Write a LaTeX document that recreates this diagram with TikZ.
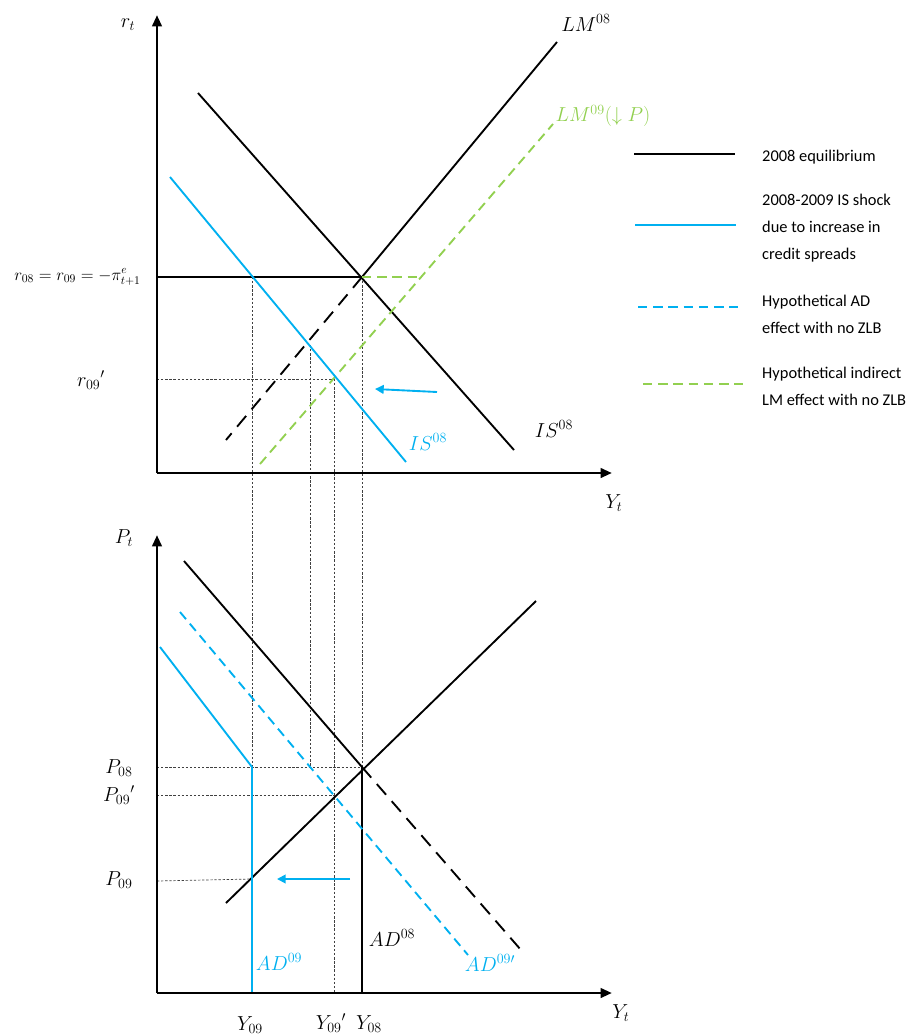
\documentclass[tikz,border=0pt]{standalone}
\usepackage{amsmath}
\usepackage[no-math]{fontspec}
\setmainfont{Carlito}
\usepackage{xcolor}
\usepackage{tikz}
\usetikzlibrary{positioning,arrows.meta}
\definecolor{cBlue}{RGB}{0,176,240}
\definecolor{cGreen}{RGB}{146,208,80}
\tikzset{
  axis/.style={draw=black, line width=2.4pt, -{Triangle[length=3.4mm,width=2.8mm]}},
  crv/.style={draw=black, line width=1.6pt},
  crvd/.style={crv, dash pattern=on 12pt off 7.3pt},
  bcrv/.style={crv, draw=cBlue},
  bcrvd/.style={bcrv, dash pattern=on 8pt off 5pt},
  gcrvd/.style={crv, draw=cGreen, dash pattern=on 8pt off 5pt},
  guide/.style={draw=black!75, line width=0.6pt, dash pattern=on 2pt off 1.5pt},
  mvarrow/.style={draw=cBlue, line width=1.6pt, -{Triangle[length=2.6mm,width=2.6mm]}},
  mlbl/.style={font=\fontsize{17}{19}\selectfont, inner sep=1pt},
  leg/.style={font=\fontsize{14}{23}\selectfont, align=left, anchor=west, inner sep=0pt},
}
\begin{document}
\begin{tikzpicture}[x=0.03cm, y=-0.03cm]
  \useasboundingbox (0,0) rectangle (912,1034);
  % ---------- IS-LM panel ----------
  \coordinate (rO)   at (157,473);
  \coordinate (rTop) at (157,15);
  \coordinate (rEnd) at (612,473);
  \coordinate (rLvl) at (157,277);
  \coordinate (rLvlb) at (157,379);
  \coordinate (E08)  at (362,277);
  \coordinate (A09)  at (252,277);
  \coordinate (B09)  at (310,345);
  \coordinate (C09)  at (334,379);
  \coordinate (ISa)  at (198,93);
  \coordinate (ISb)  at (514,450);
  \coordinate (LMa)  at (557,42);
  \coordinate (LMb)  at (226,440);
  \coordinate (LMga) at (553,124);
  \coordinate (LMgb) at (260,464);
  \coordinate (Gk)   at (422,277);
  \coordinate (ISba) at (170,177);
  \coordinate (ISbb) at (406,462);
  \coordinate (arTa) at (437,392);
  \coordinate (arTb) at (375,389);

  % ---------- AS-AD panel ----------
  \coordinate (pO)   at (157,993);
  \coordinate (pTop) at (157,535);
  \coordinate (pEnd) at (612,993);
  \coordinate (F08)  at (362,767);
  \coordinate (F08b) at (362,993);
  \coordinate (ASa)  at (226,903);
  \coordinate (ASb)  at (536,601);
  \coordinate (ADa)  at (184,561);
  \coordinate (ADb)  at (521,950);
  \coordinate (ADpa) at (180,612);
  \coordinate (ADpb) at (468,955);
  \coordinate (AD9a) at (160,647);
  \coordinate (K09)  at (252,767);
  \coordinate (K09b) at (252,993);
  \coordinate (G09)  at (334,795);
  \coordinate (H09)  at (252,879);
  \coordinate (M09)  at (310,767);
  \coordinate (N09)  at (334,993);
  \coordinate (pL08) at (157,767);
  \coordinate (pL9p) at (157,795);
  \coordinate (pL09) at (157,881);
  \coordinate (arBa) at (350,879);
  \coordinate (arBb) at (277,879);

  % guides
  \draw[guide] (rLvlb) -- (C09);
  \draw[guide] (A09) -- (K09);
  \draw[guide] (B09) -- (M09);
  \draw[guide] (C09) -- (N09);
  \draw[guide] (E08) -- (F08);
  \draw[guide] (pL08) -- (F08);
  \draw[guide] (pL9p) -- (G09);
  \draw[guide] (pL09) -- (H09);

  % curves, top
  \draw[crv] (ISa) -- (ISb);
  \draw[crv] (rLvl) -- (E08) -- (LMa);
  \draw[crvd] (E08) -- (LMb);
  \draw[gcrvd] (E08) -- (Gk);
  \draw[gcrvd] (LMgb) -- (LMga);
  \draw[bcrv] (ISba) -- (ISbb);
  \draw[mvarrow] (arTa) -- (arTb);

  % curves, bottom
  \draw[crv] (ASa) -- (ASb);
  \draw[crv] (ADa) -- (F08) -- (F08b);
  \draw[crvd] (F08) -- (ADb);
  \draw[bcrvd] (ADpa) -- (ADpb);
  \draw[bcrv] (AD9a) -- (K09) -- (K09b);
  \draw[mvarrow] (arBa) -- (arBb);

  % axes
  \draw[axis] (rO) -- (rTop);
  \draw[axis] (rO) -- (rEnd);
  \draw[axis] (pO) -- (pTop);
  \draw[axis] (pO) -- (pEnd);

  % labels, top
  \node[mlbl] (lRt)   at (128,25)  {$r_t$};
  \node[mlbl] (lYt)   at (614,503) {$Y_t$};
  \node[mlbl, font=\fontsize{14.5}{16}\selectfont, anchor=east] (lr08) at (142,277) {$r_{08}=r_{09}=-\pi^{e}_{t+1}$};
  \node[mlbl] (lr09)  at (91,380)  {$r_{09}{}'$};
  \node[mlbl] (lLM)   at (586,23)  {$LM^{08}$};
  \node[mlbl, text=cGreen] (lLMg) at (603,116) {$LM^{09}(\downarrow P)$};
  \node[mlbl] (lIS)   at (554,429) {$IS^{08}$};
  \node[mlbl, text=cBlue] (lISb) at (428,442) {$IS^{08}$};

  % labels, bottom
  \node[mlbl] (lPt)   at (124,538) {$P_t$};
  \node[mlbl] (lYtb)  at (621,1013) {$Y_t$};
  \node[mlbl] (lP08)  at (119,768) {$P_{08}$};
  \node[mlbl] (lP9p)  at (119,795) {$P_{09}{}'$};
  \node[mlbl] (lP09)  at (119,880) {$P_{09}$};
  \node[mlbl] (lAD)   at (392,938) {$AD^{08}$};
  \node[mlbl, text=cBlue] (lAD9)  at (279,962) {$AD^{09}$};
  \node[mlbl, text=cBlue] (lAD9p) at (490,963) {$AD^{09\prime}$};
  \node[mlbl] (lY09)  at (250,1025) {$Y_{09}$};
  \node[mlbl] (lY9p)  at (331,1023) {$Y_{09}{}'$};
  \node[mlbl] (lY08)  at (369,1024) {$Y_{08}$};

  % legend
  \coordinate (g1a) at (634,154); \coordinate (g1b) at (735,154);
  \coordinate (g2a) at (635,225); \coordinate (g2b) at (736,225);
  \coordinate (g3a) at (638,307); \coordinate (g3b) at (738,307);
  \coordinate (g4a) at (643,384); \coordinate (g4b) at (743,384);
  \draw[crv] (g1a) -- (g1b);
  \draw[bcrv] (g2a) -- (g2b);
  \draw[bcrvd] (g3a) -- (g3b);
  \draw[gcrvd] (g4a) -- (g4b);
  \node[leg] (t1) at (762,157) {2008 equilibrium};
  \node[leg] (t2) at (762,228) {2008-2009 IS shock\\due to increase in\\credit spreads};
  \node[leg] (t3) at (762,314) {Hypothetical AD\\effect with no ZLB};
  \node[leg] (t4) at (762,386) {Hypothetical indirect\\LM effect with no ZLB};
\end{tikzpicture}
\end{document}
